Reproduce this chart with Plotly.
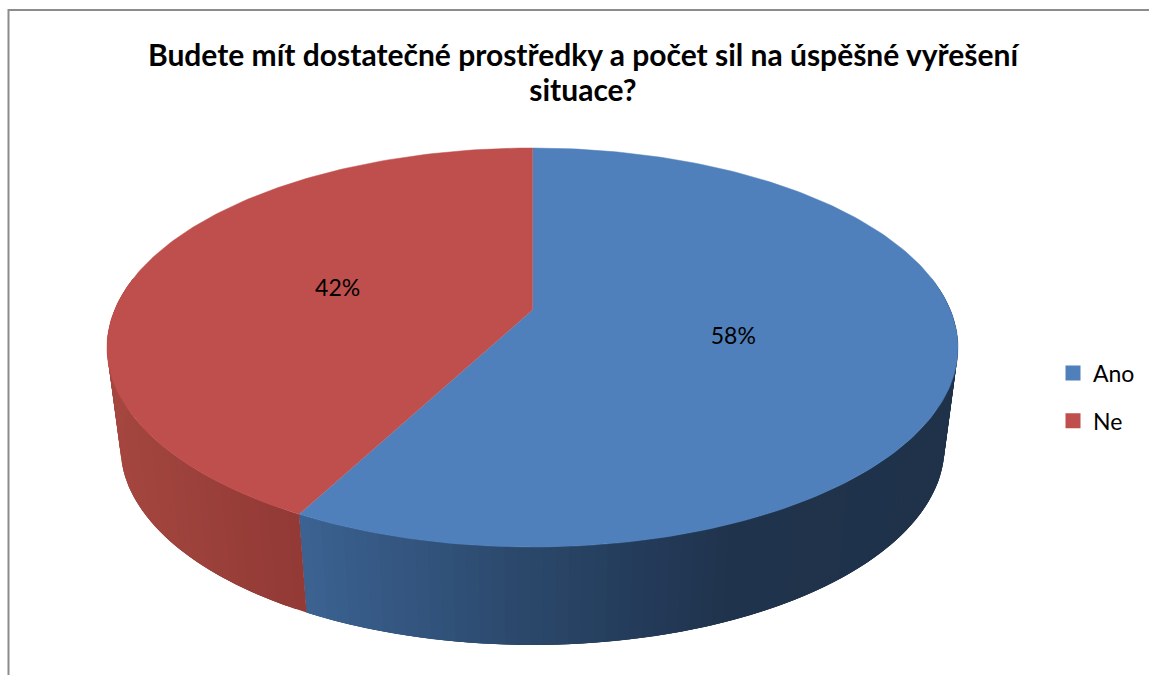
import math
import plotly.graph_objects as go

categories = ["Ano", "Ne"]
values = [58, 42]
title_lines = ["Budete mít dostatečné prostředky a počet sil na úspěšné vyřešení", "situace?"]

TOP_COLORS = {"Ano": "#4f80bb", "Ne": "#be4f4c"}
SIDE_STOPS = {
    "Ano": [(300, (60, 100, 147)), (400, (52, 87, 130)), (530, (43, 72, 107)),
            (660, (35, 58, 88)), (740, (32, 51, 76)), (950, (31, 50, 74))],
    "Ne": [(105, (166, 71, 64)), (200, (156, 65, 59)), (305, (147, 57, 54))],
}

CX, CY, RX, RY = 532.5, 347.5, 425.5, 199.5
CY2, RX2, RY2 = 447, 412, 198
B = 0.15
APEX_B = 0.188


def warp(t):
    u, v = math.sin(t), math.cos(t)
    d = 1 + B * v
    return u * math.sqrt(1 - B * B) / d, (v + B) / d


def top_pt(t):
    u, v = warp(t)
    return CX + RX * u, CY - RY * v


def bot_pt(t):
    u, v = warp(t)
    return CX + RX2 * u, CY2 - RY2 * v


def side_color(name, x):
    stops = SIDE_STOPS[name]
    if x <= stops[0][0]:
        c = stops[0][1]
    elif x >= stops[-1][0]:
        c = stops[-1][1]
    else:
        for (a, ca), (b, cb) in zip(stops, stops[1:]):
            if a <= x <= b:
                f = (x - a) / (b - a)
                c = tuple(ca[i] + (cb[i] - ca[i]) * f for i in range(3))
                break
    return "rgb(%d,%d,%d)" % tuple(round(p) for p in c)


fig = go.Figure()
total = sum(values)
apex = (CX, CY - APEX_B * RY)

start = 0.0
spans = []
for name, val in zip(categories, values):
    end = start + val / total * 2 * math.pi
    spans.append((name, start, end))
    start = end

# side walls: overlapping slices, no outlines, so no seams show
vis0, vis1 = math.radians(78), math.radians(282)
for name, a, b in spans:
    lo, hi = max(a, vis0), min(b, vis1)
    n = max(1, int((hi - lo) / math.radians(1.5)))
    for i in range(n):
        t0 = lo + (hi - lo) * i / n
        t1 = min(hi, t0 + 3 * (hi - lo) / n)
        ts = [t0 + (t1 - t0) * k / 6 for k in range(7)]
        p = [top_pt(t) for t in ts] + [bot_pt(t) for t in reversed(ts)]
        col = side_color(name, (top_pt(t0)[0] + bot_pt(t0)[0]) / 2)
        fig.add_trace(go.Scatter(
            x=[q[0] for q in p], y=[q[1] for q in p], mode="lines", fill="toself",
            fillcolor=col, line=dict(width=0), hoverinfo="skip", showlegend=False))

# top faces
for name, a, b in spans:
    n = max(2, int((b - a) / math.radians(1)))
    pts = [top_pt(a + (b - a) * i / n) for i in range(n + 1)] + [apex]
    col = TOP_COLORS[name]
    fig.add_trace(go.Scatter(
        x=[q[0] for q in pts], y=[q[1] for q in pts], mode="lines", fill="toself",
        fillcolor=col, line=dict(color=col, width=0.5), name=name, hoverinfo="name", showlegend=False))

# percentage labels
lx, ly, lt = [], [], []
for (name, a, b), val in zip(spans, values):
    m = (a + b) / 2
    lx.append(apex[0] + 3 + 0.48 * RX * math.sin(m))
    ly.append(apex[1] + 4 - 0.48 * RY * math.cos(m))
    lt.append(f"{round(val / total * 100)}%")
fig.add_trace(go.Scatter(x=lx, y=ly, text=lt, mode="text", textposition="middle center",
                         textfont=dict(family="Lato", size=23, color="#000000"),
                         hoverinfo="skip", showlegend=False))

# legend entries
for name in categories:
    fig.add_trace(go.Scatter(x=[None], y=[None], mode="markers", name=name, legendgroup=name,
                             marker=dict(symbol="square", size=15, color=TOP_COLORS[name])))

title_text = "<br>".join(f'<span style="font-size:30px">{s}</span>' for s in title_lines)
fig.update_layout(
    width=1149, height=675, margin=dict(l=0, r=0, t=0, b=0),
    paper_bgcolor="white", plot_bgcolor="white",
    xaxis=dict(range=[0, 1149], visible=False, fixedrange=True),
    yaxis=dict(range=[675, 0], visible=False, fixedrange=True),
    title=dict(text=title_text, x=583 / 1149, xanchor="center",
               y=1 - 66 / 675, yanchor="middle", yref="container",
               font=dict(family="Lato", size=27, color="#000000", weight="bold")),
    legend=dict(x=1053 / 1149, y=1 - 397 / 675, xanchor="left", yanchor="middle",
                font=dict(family="Lato", size=23, color="#000000"),
                traceorder="grouped", tracegroupgap=15, bgcolor="rgba(0,0,0,0)"),
    shapes=[dict(type="rect", xref="x", yref="y", x0=8.5, y0=10, x1=1300, y1=800,
                 line=dict(color="#8c8c8c", width=2), fillcolor="rgba(0,0,0,0)", layer="below")],
)

fig.write_html("out.html", config={"displayModeBar": False},
               post_script="document.body.style.margin='0';")
